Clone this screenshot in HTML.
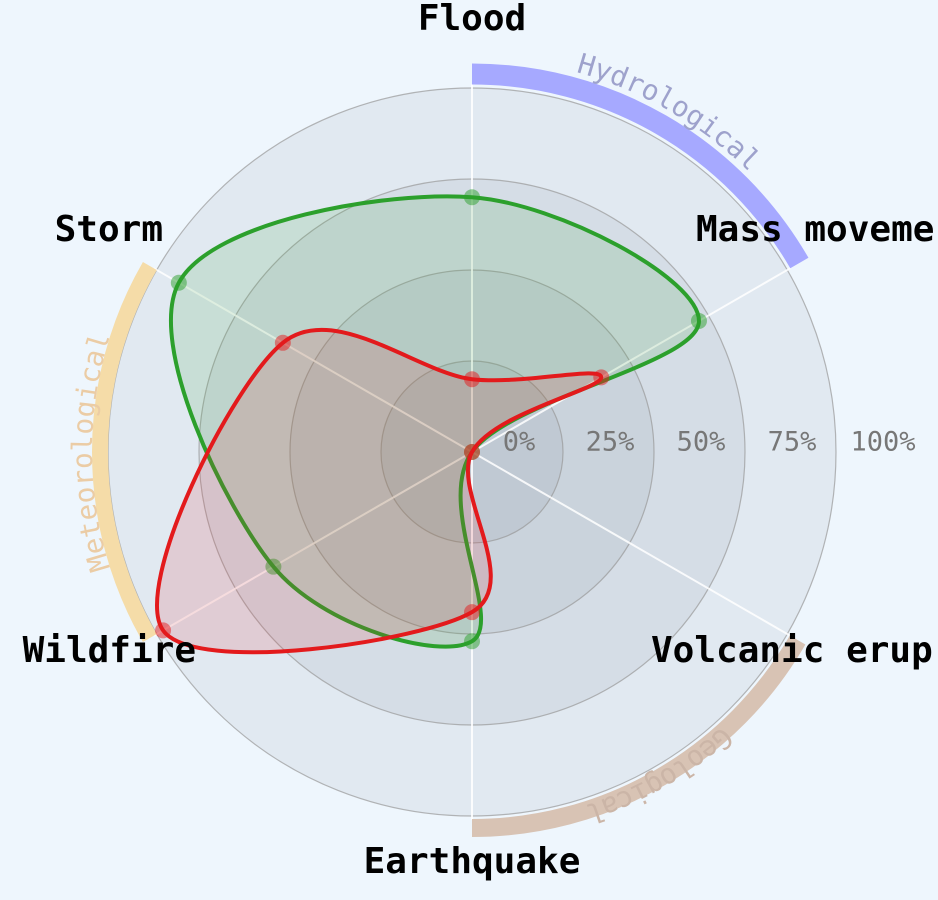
<!DOCTYPE html>
<html><head><meta charset="utf-8"><style>
html,body{margin:0;padding:0;background:#eef6fd;overflow:hidden}
svg{display:block}
</style></head><body>
<svg id="chart" width="938" height="900" xmlns="http://www.w3.org/2000/svg"></svg>
<script>
const categories=["Flood","Mass movement","Volcanic eruption","Earthquake","Wildfire","Storm"];
const greenValues=[0.70,0.72,0.0,0.52,0.63,0.93];
const redValues=[0.20,0.41,0.0,0.44,0.98,0.60];
const tickLabels=["0%","25%","50%","75%","100%"];
const groupNames=["Hydrological","Geological","Meteorological"];
const groupStart=[0,2,4];

const NS="http://www.w3.org/2000/svg";
const svg=document.getElementById('chart');
const cx=472,cy=452,R=364;
function el(t,a,p){const e=document.createElementNS(NS,t);for(const k in a)e.setAttribute(k,a[k]);(p||svg).appendChild(e);return e;}
function ang(i){return i*2*Math.PI/categories.length;}
function pt(i,v){const a=ang(i);return [cx+R*v*Math.sin(a),cy-R*v*Math.cos(a)];}

for(let k=4;k>=1;k--){
  const c=el('circle',{cx:cx,cy:cy,r:R*k/4,fill:'rgba(95,105,120,0.085)',stroke:'#999','stroke-width':1.2,'stroke-opacity':0.7});
  
  
}
categories.forEach((c,i)=>{
  const p=pt(i,1.01);
  const l=el('line',{x1:cx,y1:cy,x2:p[0],y2:p[1],stroke:'#fff','stroke-width':2,'stroke-opacity':0.85});
  
  
});
tickLabels.forEach((t,k)=>{
  const x=el('text',{x:cx+47+k*R/4,y:cy-10,'font-family':'DejaVu Sans Mono, monospace','font-size':27,fill:'#777','text-anchor':'middle','dominant-baseline':'central'});
  x.textContent=t;
  
  
});
const gcol=[['#a6a9ff',21,378,'#9ea2cc',394],['#d8c3b4',18,376,'#cbb5a7',392],['#f5dca8',16,372,'#ebcca5',380]];
const defs=el('defs',{});
groupNames.forEach((g,j)=>{
  const s=ang(groupStart[j]),e=ang(groupStart[j]+1);
  const [col,w,r,tc,tr]=gcol[j];
  const a=el('path',{d:`M${cx+r*Math.sin(s)},${cy-r*Math.cos(s)} A${r},${r} 0 0 1 ${cx+r*Math.sin(e)},${cy-r*Math.cos(e)}`,fill:'none',stroke:col,'stroke-width':w});
  
  
  el('path',{id:'gp'+j,d:`M${cx+tr*Math.sin(s)},${cy-tr*Math.cos(s)} A${tr},${tr} 0 0 1 ${cx+tr*Math.sin(e)},${cy-tr*Math.cos(e)}`},defs);
  const t=el('text',{'font-family':'DejaVu Sans Mono, monospace','font-size':28,fill:tc,'dominant-baseline':j===1?'hanging':'auto'});
  
  
  const tp=el('textPath',{href:'#gp'+j,startOffset:'50%','text-anchor':'middle'},t);
  tp.textContent=g;
});
function curvePath(vals){
  const P=vals.map((v,i)=>pt(i,v));const n=P.length;let d=`M${P[0][0]},${P[0][1]}`;
  for(let i=0;i<n;i++){
    const p0=P[(i-1+n)%n],p1=P[i],p2=P[(i+1)%n],p3=P[(i+2)%n];
    const c1=[p1[0]+(p2[0]-p0[0])/6,p1[1]+(p2[1]-p0[1])/6];
    const c2=[p2[0]-(p3[0]-p1[0])/6,p2[1]-(p3[1]-p1[1])/6];
    d+=`C${c1[0]},${c1[1]} ${c2[0]},${c2[1]} ${p2[0]},${p2[1]}`;
  }
  return d+'Z';
}
function series(vals,stroke,fill,name){
  const p=el('path',{d:curvePath(vals),fill:fill,stroke:stroke,'stroke-width':4});
  
  
  vals.forEach((v,i)=>{
    const q=pt(i,v);
    const c=el('circle',{cx:q[0],cy:q[1],r:8,fill:stroke,'fill-opacity':0.5});
    
    
  });
}
series(greenValues,'#2ca02c','rgba(60,160,60,0.15)','series-green');
series(redValues,'#e31a1c','rgba(220,40,50,0.15)','series-red');
const lab=[[472,30,'middle'],[696,241,'start'],[651,662,'start'],[472,873,'middle'],[196,662,'end'],[163,241,'end']];
const shown=["Flood","Mass moveme","Volcanic erup","Earthquake","Wildfire","Storm"];
categories.forEach((c,i)=>{
  const t=el('text',{x:lab[i][0],y:lab[i][1],'text-anchor':lab[i][2],'font-family':'DejaVu Sans Mono, monospace','font-size':36,'font-weight':'bold',fill:'#000'});
  t.textContent=shown[i];
  
  
});
</script>
</body></html>
